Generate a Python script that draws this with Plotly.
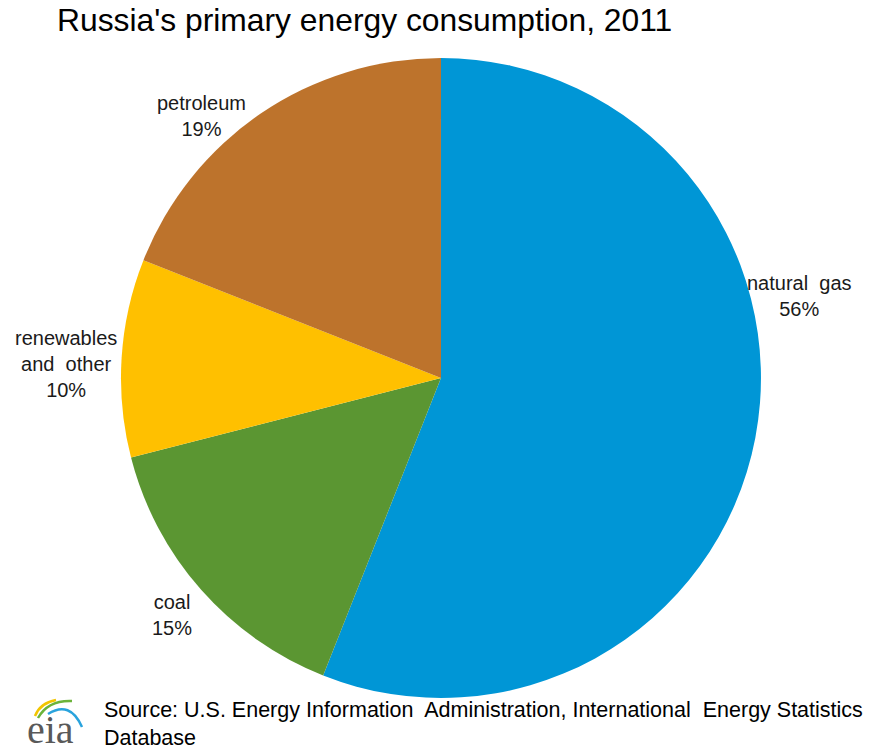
import plotly.graph_objects as go

# Russia's primary energy consumption, 2011 (share, %)
labels = ["natural  gas", "coal", "renewables\nand  other", "petroleum"]
shares = [56, 15, 10, 19]
colors = ["#0096D6", "#5B9632", "#FFC000", "#BD732C"]

# caption centres (paper coords) for each slice
label_pos = [(0.906, 0.606), (0.195, 0.181), (0.075, 0.515), (0.228, 0.846)]

fig = go.Figure()
fig.add_trace(go.Pie(
    labels=[l.replace("\n", " ") for l in labels],
    values=shares,
    sort=False,
    direction="clockwise",
    rotation=0,
    marker=dict(colors=colors, line=dict(width=0)),
    textinfo="none",
    hoverinfo="label+percent",
    showlegend=False,
    domain=dict(x=[0.1370, 0.8618], y=[0.0706, 0.9228]),
))

lab_font = dict(family="Liberation Sans, Arial", size=20, color="#1a1a1a")
for lab, val, (x, y) in zip(labels, shares, label_pos):
    fig.add_annotation(
        x=x, y=y, xref="paper", yref="paper", xanchor="center", yanchor="middle",
        text=lab.replace("\n", "<br>") + f"<br>{val}%",
        showarrow=False, align="center", font=lab_font,
    )

fig.add_annotation(
    x=0.062, y=0.973, xref="paper", yref="paper", xanchor="left", yanchor="middle",
    text="Russia's primary energy consumption, 2011",
    showarrow=False,
    font=dict(family="Liberation Sans, Arial", size=31.8, color="#000000"),
)

fig.add_annotation(
    x=0.117, y=0.0, xref="paper", yref="paper", xanchor="left", yanchor="bottom",
    text="Source: U.S. Energy Information  Administration, International  Energy Statistics<br>Database",
    showarrow=False, align="left", borderpad=0,
    font=dict(family="Liberation Sans, Arial", size=21.5, color="#000000"),
)

# eia logo: serif wordmark plus three coloured swooshes
fig.add_annotation(
    x=0.057, y=0.028, xref="paper", yref="paper", xanchor="center", yanchor="middle",
    text="eia", showarrow=False,
    font=dict(family="Liberation Serif, Times New Roman", size=40, color="#595959"),
)
swooshes = [("#F2C500", "M 35 716 Q 40 703 56 700"),
            ("#6BB33A", "M 38 718 Q 48 700 72 701"),
            ("#29A3DD", "M 48 714 Q 70 700 82 727")]
for c, p in swooshes:
    fig.add_shape(type="path", xref="x", yref="y", path=p,
                  line=dict(color=c, width=2.5), layer="above")

fig.update_layout(
    width=883, height=751,
    margin=dict(l=0, r=0, t=0, b=0),
    paper_bgcolor="white", plot_bgcolor="white",
    xaxis=dict(visible=False, range=[0, 883], domain=[0, 1], fixedrange=True),
    yaxis=dict(visible=False, range=[751, 0], domain=[0, 1], fixedrange=True),
)
fig.write_html("out.html", config={"displayModeBar": False},
               post_script="document.body.style.margin='0px';")
